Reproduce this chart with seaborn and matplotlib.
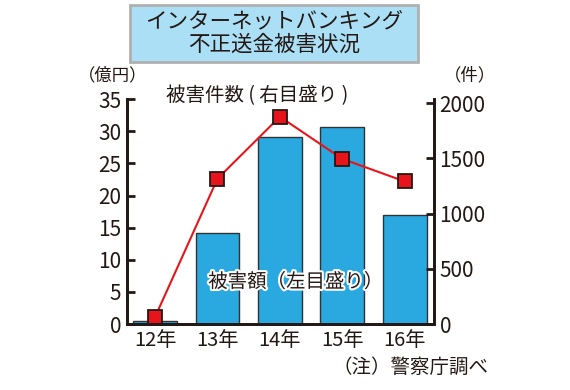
import numpy as np
import pandas as pd
import matplotlib
matplotlib.use('Agg')
import matplotlib.pyplot as plt
import matplotlib.patheffects as pe
from matplotlib.patches import Rectangle
import seaborn as sns

# データ
years = ['12年', '13年', '14年', '15年', '16年']
amount = [0.5, 14.1, 29.1, 30.7, 16.9]      # 被害額（億円）
cases = [64, 1315, 1876, 1495, 1291]        # 被害件数（件）

df = pd.DataFrame({'年': years, '被害額': amount, '件数': cases})

sns.set_style('white')
plt.rcParams['font.family'] = ['Noto Sans CJK JP', 'DejaVu Sans']
ink = '#231815'

fig = plt.figure(figsize=(5.7, 3.9), dpi=100)
ax = fig.add_axes([0.2228, 0.169, 0.5386, 0.577])

sns.barplot(data=df, x='年', y='被害額', ax=ax, color='#29a9e0',
            edgecolor='#333333', linewidth=1, width=0.7, saturation=1)
ax.set_xlim(-0.45, 4.47)
ax.set_ylim(0, 35)
ax.set_yticks(range(0, 36, 5))
ax.set_xlabel('')
ax.set_ylabel('')

ax2 = ax.twinx()
sns.pointplot(data=df, x='年', y='件数', ax=ax2, color='#e8141c',
              markers='s', linestyles='-', markersize=10,
              markeredgecolor=ink, markeredgewidth=1.3, linewidth=1.5)
ax2.set_xlim(-0.45, 4.47)
ax2.set_ylim(0, 2036)
ax2.set_yticks(range(0, 2001, 500))
ax2.set_ylabel('')

for a in (ax, ax2):
    a.spines['top'].set_visible(False)
    for s in ('left', 'right', 'bottom'):
        a.spines[s].set_linewidth(2)
        a.spines[s].set_color(ink)
    a.tick_params(axis='y', direction='in', length=6, width=2,
                  labelsize=15, colors=ink, labelcolor=ink, pad=4)
    a.tick_params(axis='x', length=0, labelsize=14.5, labelcolor=ink, pad=4)
ax.tick_params(axis='y', left=True, right=False)
ax2.tick_params(axis='y', right=True, left=False)

# タイトルの枠
fig.patches.append(Rectangle((130 / 570, 1 - 62 / 390), 288 / 570, 57 / 390,
                             transform=fig.transFigure, facecolor='#aadff5',
                             edgecolor='#b0b0b0', linewidth=2))
fig.text(274 / 570, 1 - 33 / 390, 'インターネットバンキング\n不正送金被害状況',
         ha='center', va='center', fontsize=15.5, color=ink, linespacing=1.05)

fig.text(113 / 570, 1 - 75 / 390, '（億円）', ha='center', va='center',
         fontsize=12.5, color=ink)
fig.text(470 / 570, 1 - 75 / 390, '（件）', ha='center', va='center',
         fontsize=12.5, color=ink)
fig.text(257 / 570, 1 - 96 / 390, '被害件数 ( 右目盛り )', ha='center',
         va='center', fontsize=14, color=ink)
fig.text(296 / 570, 1 - 282 / 390, '被害額（左目盛り）', ha='center',
         va='center', fontsize=14, color=ink,
         path_effects=[pe.withStroke(linewidth=3, foreground='white')])
fig.text(411 / 570, 1 - 367 / 390, '（注）警察庁調べ', ha='center',
         va='center', fontsize=14, color=ink)

fig.savefig('out.png', dpi=100)
